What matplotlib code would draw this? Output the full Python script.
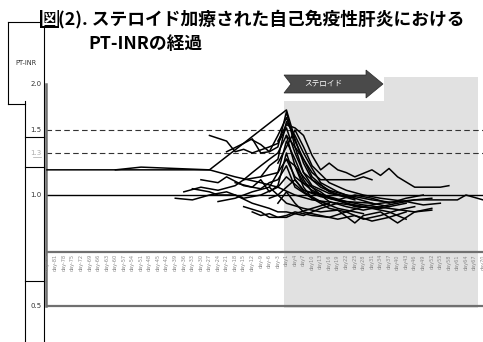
import matplotlib
matplotlib.use("Agg")
import matplotlib.pyplot as plt
from matplotlib.lines import Line2D
from matplotlib.patches import Rectangle, Polygon

plt.rcParams['font.family'] = ['Noto Sans CJK JP', 'DejaVu Sans']

# Категории оси X: дни до и после начала стероидов
pre_days = list(range(-84, 0, 3))
post_days = list(range(1, 71, 3))
all_days = pre_days + post_days
day_labels = [f"day{d}" for d in all_days]

# Значения PT-INR по пациентам (дни, значения)
inr_days = [
    [-84, -27, 1, 4, 7, 10, 16, 22, 31, 40],
    [-60, -51, -27, -18, -9, -3, 4, 10, 19, 28],
    [-27, -21, -18, -15, -12, -6, -3, 1, 4, 7, 10, 16, 25],
    [-33, -27, -24, -18, -12, -6, -3, 1, 7, 13, 19],
    [-15, -12, -9, -6, -3, 1, 4, 7, 13, 16, 22, 28, 34, 40, 46, 55, 61, 64, 70],
    [-3, 1, 4, 7, 10, 13, 16, 19, 22, 25, 31, 34, 37, 40, 46, 55, 58],
    [1, 4, 7, 10, 13, 19, 25, 28, 31],
    [-12, -9, -6, -3, 1, 4, 7, 13, 19, 25],
    [-21, -15, -12, -9, -6, -3, 1, 4, 10, 16, 22],
    [-36, -30, -24, -18, -15, -9, -3, 1, 4, 10, 16, 22, 31],
    [-18, -12, -9, -6, -3, 1, 4, 7, 13, 19, 25, 34, 43],
    [-24, -18, -12, -6, -3, 1, 4, 7, 10, 16, 22, 28, 37, 46, 52],
    [-6, -3, 1, 7, 13, 19, 25, 28, 34, 40, 46, 52],
    [-12, -9, -6, -3, 1, 4, 10, 16, 22, 28, 37, 43],
    [-9, -6, -3, 1, 4, 7, 10, 13, 19, 25, 31, 37],
    [-3, 1, 4, 7, 10, 16, 22, 28, 34, 43, 49, 55],
    [-30, -24, -21, -15, -9, -6, -3, 1, 4, 10, 16],
    [1, 4, 7, 10, 13, 16, 22, 28, 34, 40, 46, 52],
    [-6, -3, 1, 4, 7, 13, 19, 25, 31, 37, 43, 49],
    [-39, -33, -27, -21, -15, -9, -3, 1, 7, 13, 19, 28],
    [-15, -9, -6, -3, 1, 4, 10, 16],
    [-3, 1, 4, 7, 13, 19, 25, 31, 37, 43],
    [4, 7, 10, 16, 22, 28, 34, 40, 46],
]
inr_values = [
    [1.17, 1.17, 1.70, 1.42, 1.22, 1.10, 1.03, 1.00, 0.97, 0.95],
    [1.17, 1.19, 1.17, 1.12, 1.08, 1.05, 1.00, 0.97, 0.95, 0.93],
    [1.45, 1.40, 1.31, 1.33, 1.30, 1.35, 1.38, 1.52, 1.30, 1.15, 1.06, 1.01, 0.98],
    [1.04, 1.02, 1.00, 1.00, 0.95, 0.92, 0.90, 0.90, 0.88, 0.92, 0.95],
    [1.10, 1.15, 1.20, 1.25, 1.30, 1.45, 1.20, 1.08, 1.02, 0.98, 0.95, 0.93, 0.95, 0.96, 0.97, 0.97, 0.97, 1.00, 0.97],
    [1.40, 1.55, 1.52, 1.45, 1.28, 1.17, 1.22, 1.17, 1.15, 1.12, 1.17, 1.13, 1.18, 1.12, 1.05, 1.05, 1.06],
    [1.45, 1.35, 1.25, 1.15, 1.10, 1.10, 1.10, 1.12, 1.10],
    [1.41, 1.37, 1.31, 1.35, 1.68, 1.35, 1.15, 1.05, 1.00, 0.97],
    [1.31, 1.38, 1.42, 1.30, 1.31, 1.45, 1.62, 1.40, 1.12, 1.02, 0.99],
    [1.02, 1.05, 1.03, 1.06, 1.10, 1.12, 1.15, 1.25, 1.12, 1.03, 0.98, 0.96, 0.95],
    [1.08, 1.05, 1.10, 1.02, 1.06, 1.30, 1.10, 1.03, 0.99, 0.97, 0.93, 0.92, 0.95],
    [0.96, 0.98, 1.02, 1.05, 1.15, 1.40, 1.25, 1.10, 1.02, 0.99, 0.96, 0.94, 0.92, 0.90, 0.91],
    [1.05, 1.00, 0.95, 0.92, 0.90, 0.91, 0.84, 0.88, 0.90, 0.84, 0.90, 0.92],
    [0.90, 0.88, 0.89, 0.87, 0.88, 0.90, 0.88, 0.87, 0.90, 0.93, 0.90, 0.86],
    [1.12, 1.20, 1.25, 1.58, 1.45, 1.30, 1.18, 1.08, 1.02, 0.98, 0.95, 0.93],
    [1.22, 1.35, 1.50, 1.35, 1.20, 1.08, 1.03, 1.00, 0.98, 0.96, 0.94, 0.95],
    [1.10, 1.08, 1.12, 1.06, 1.04, 1.08, 1.10, 1.20, 1.05, 0.98, 0.94],
    [1.25, 1.20, 1.12, 1.05, 1.00, 0.96, 0.93, 0.91, 0.93, 0.95, 0.97, 0.98],
    [0.98, 1.00, 1.05, 1.10, 1.03, 1.00, 0.97, 1.00, 0.98, 0.95, 0.98, 1.00],
    [0.98, 0.97, 1.00, 1.02, 0.98, 1.00, 1.05, 1.12, 1.02, 0.96, 0.92, 0.89],
    [0.93, 0.90, 0.87, 0.87, 0.87, 0.89, 0.92, 0.95],
    [0.95, 1.02, 0.95, 0.90, 0.88, 0.86, 0.88, 0.85, 0.87, 0.90],
    [1.20, 1.05, 0.98, 0.92, 0.90, 0.86, 0.88, 0.91, 0.93],
]

ref_dashed = [1.5, 1.3]
ref_solid = 1.0
ytick_values = [2.0, 1.5, 1.3, 1.0, 0.5]

W, H = 483, 342
fig = plt.figure(figsize=(W / 100, H / 100), dpi=100)


def fx(x):
    return x / W


def fy(y):
    return 1 - y / H


# оси в пиксельных координатах
ax_top, ax_bot, ax_left, ax_right = 83.9, 311, 46, 483
ax = fig.add_axes([fx(ax_left), fy(ax_bot), fx(ax_right - ax_left), (ax_bot - ax_top) / H])
ax.set_yscale('log')
ax.set_ylim(0.485, 2.0)
ax.set_xlim(-0.12, 50.99)
for s in ax.spines.values():
    s.set_visible(False)
ax.set_xticks([])
ax.set_yticks([])
ax.yaxis.set_minor_locator(matplotlib.ticker.NullLocator())
ax.patch.set_alpha(0)

idx = {d: i for i, d in enumerate(all_days)}

# серая область периода стероидов
ax.axvspan(27.7, 50.4, ymin=(ax_bot - 308) / (ax_bot - ax_top), ymax=(ax_bot - 77) / (ax_bot - ax_top),
           color='#e1e1e1', zorder=0, clip_on=False, lw=0)

# опорные линии
for v in ref_dashed:
    ax.axhline(v, color='#333333', lw=0.8, linestyle=(0, (5, 3)), zorder=2)
ax.axhline(ref_solid, color='black', lw=1.0, zorder=2)

# серые оси
ax.plot([-0.12, -0.12], [0.5, 2.0], color='#707070', lw=1.8, zorder=3, clip_on=False)
ax.axhline(0.7, color='#707070', lw=1.6, zorder=3)
ax.axhline(0.5, color='#707070', lw=1.6, zorder=3)

# линии пациентов
for days, vals in zip(inr_days, inr_values):
    ax.plot([idx[d] for d in days], vals, color='black', lw=1.1, zorder=4)

# подписи дней
for i, lab in enumerate(day_labels):
    ax.text(i, 0.692, lab, rotation=90, ha='center', va='top', fontsize=3.6,
            color='#8a8a8a', family='DejaVu Sans', zorder=5)

# подписи оси Y
for v in ytick_values:
    col = '#aaaaaa' if v == 1.3 else '#333333'
    ax.text(-0.62, v, f"{v:.1f}", ha='right', va='center', fontsize=5, color=col,
            family='DejaVu Sans', clip_on=False)
# подчёркивание у 1.3
fig.add_artist(Line2D([fx(33), fx(40.5)], [fy(156.5), fy(156.5)], color='#aaaaaa', lw=0.5))

# рамки слева
frame_segs = [
    [(8, 22), (44, 22)], [(8, 22), (8, 104)], [(8, 104), (25, 104)],
    [(25, 101), (25, 342)], [(44, 22), (44, 342)],
    [(25, 137), (44, 137)], [(25, 167), (44, 167)], [(25, 281), (44, 281)],
]
for (x0, y0), (x1, y1) in frame_segs:
    fig.add_artist(Line2D([fx(x0), fx(x1)], [fy(y0), fy(y1)], color='black', lw=0.8))

fig.text(fx(26), fy(63), 'PT-INR', ha='center', va='center', fontsize=4.8, color='#333333',
         family='DejaVu Sans')

# белый фон под стрелкой и стрелка
fig.add_artist(Rectangle((fx(283), fy(101)), fx(384 - 283), (101 - 66) / H,
                         facecolor='white', edgecolor='none', zorder=1))
arrow_px = [(284, 75), (366, 75), (366, 70), (383, 84), (366, 98), (366, 93), (284, 93), (291, 84)]
fig.add_artist(Polygon([(fx(x), fy(y)) for x, y in arrow_px], closed=True,
                       facecolor='#4a4a4a', edgecolor='#2a2a2a', lw=0.5, zorder=2))
fig.text(fx(323), fy(84), 'ステロイド', ha='center', va='center', fontsize=5.5,
         color='white', zorder=3)

# заголовок
fig.text(fx(49.5), fy(19), '図', ha='center', va='center', fontsize=12.8, fontweight='bold',
         color='white', bbox=dict(facecolor='black', edgecolor='none', pad=0.2))
fig.text(fx(58), fy(19), '(2). ステロイド加療された自己免疫性肝炎における', ha='left', va='center',
         fontsize=12.8, fontweight='bold', color='black')
fig.text(fx(88), fy(44), 'PT-INRの経過', ha='left', va='center',
         fontsize=12.8, fontweight='bold', color='black')

fig.savefig('out.png', dpi=100)
